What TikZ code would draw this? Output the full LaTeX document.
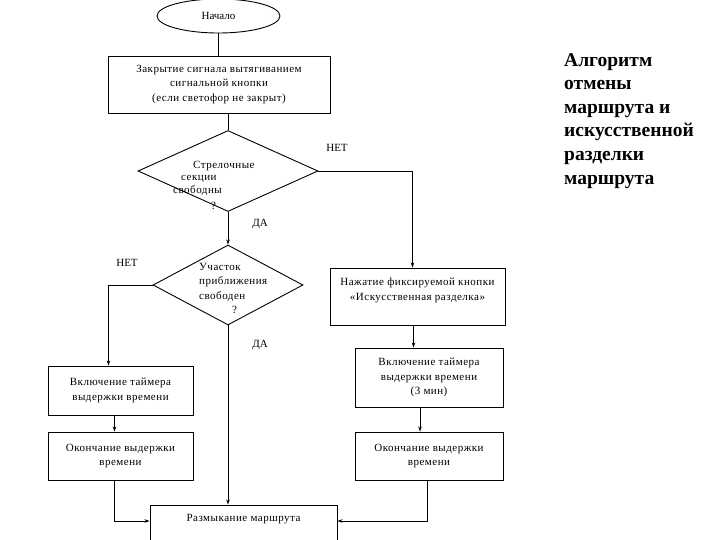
\documentclass[tikz,border=0pt]{standalone}
\usepackage{fontspec}
\setmainfont{Liberation Serif}
\newfontfamily\spacedfont{Liberation Serif}[LetterSpace=4.5]
\usetikzlibrary{shapes.geometric,arrows.meta}

\tikzset{
  box/.style={draw,line width=0.9pt,align=center,font=\spacedfont\fontsize{11}{14.5}\selectfont},
  diam/.style={draw,diamond,line width=0.9pt,inner sep=0pt},
  link/.style={line width=0.8pt},
  arr/.style={line width=0.8pt,-{Stealth[length=5pt,width=3.5pt]}},
  lbl/.style={font=\fontsize{11}{13}\selectfont,inner sep=0pt}
}

\begin{document}
\begin{tikzpicture}[x=1pt,y=-1pt]
  \useasboundingbox (0,0) rectangle (720,540);
  % main column
  \node[draw,ellipse,line width=0.9pt,minimum width=123pt,minimum height=34pt,font=\fontsize{11}{13}\selectfont] (start) at (218.5,16) {Начало};
  \node[box,minimum width=222pt,minimum height=57pt] (close) at (219,84.5) {Закрытие сигнала вытягиванием\\сигнальной кнопки\\(если светофор не закрыт)};
  \node[diam,minimum width=180pt,minimum height=81pt] (q1) at (228,171) {};
  \node[lbl,anchor=north west,align=left,font=\spacedfont\fontsize{11}{12.5}\selectfont] (q1text) at (173,161) {\hspace*{20pt}Стрелочные\\\hspace*{8pt}секции\\свободны\\[4pt]\hspace*{38pt}?};
  \node[diam,minimum width=150pt,minimum height=80pt] (q2) at (228,285) {};
  \node[lbl,anchor=north west,align=left,font=\spacedfont\fontsize{11}{14.5}\selectfont] (q2text) at (199,263) {Участок\\приближения\\свободен\\\hspace*{33pt}?};
  \node[box,minimum width=187pt,minimum height=40pt] (open) at (243.5,525) {Размыкание маршрута\\~};
  % left branch
  \node[box,minimum width=145pt,minimum height=49pt] (left1) at (120.5,390.5) {Включение таймера\\выдержки времени};
  \node[box,minimum width=145pt,minimum height=48pt] (left2) at (120.5,456) {Окончание выдержки\\времени};
  % right branch
  \node[box,minimum width=175pt,minimum height=57pt] (press) at (417.5,296.5) {Нажатие фиксируемой кнопки\\«Искусственная разделка»\\~};
  \node[box,minimum width=148pt,minimum height=59pt] (timer) at (429,377.5) {Включение таймера\\выдержки времени\\(3 мин)};
  \node[box,minimum width=148pt,minimum height=48pt] (endR) at (429,456) {Окончание выдержки\\времени};
  % labels
  \node[lbl] (no1) at (337,148) {НЕТ};
  \node[lbl] (yes1) at (260,224) {ДА};
  \node[lbl] (no2) at (127,263) {НЕТ};
  \node[lbl] (yes2) at (260,345) {ДА};
  \node[anchor=north west,align=left,inner sep=0pt,font=\fontsize{19.5}{23.6}\selectfont\bfseries] (title) at (564,53) {Алгоритм\\отмены\\маршрута и\\искусственной\\разделки\\маршрута};
  % connectors
  \draw[link] (start.south) -- (start.south |- close.north);
  \draw[link] (q1.north |- close.south) -- (q1.north);
  \draw[arr] (q1.east) -| ([xshift=-5pt]press.north);
  \draw[arr] (q1.south) -- (q2.north);
  \draw[arr] (q2.west) -| ([xshift=-12pt]left1.north);
  \draw[arr] (q2.south) -- (q2.south |- open.north);
  \draw[arr] ([xshift=-4pt]press.south) -- ([xshift=-4pt]press.south |- timer.north);
  \draw[arr] ([xshift=-9pt]timer.south) -- ([xshift=-9pt]timer.south |- endR.north);
  \draw[arr] ([xshift=-6pt]left1.south) -- ([xshift=-6pt]left1.south |- left2.north);
  \draw[arr] ([xshift=-6pt]left2.south) |- ([yshift=4pt]open.west);
  \draw[arr] ([xshift=-2pt]endR.south) |- ([yshift=4pt]open.east);
\end{tikzpicture}
\end{document}
